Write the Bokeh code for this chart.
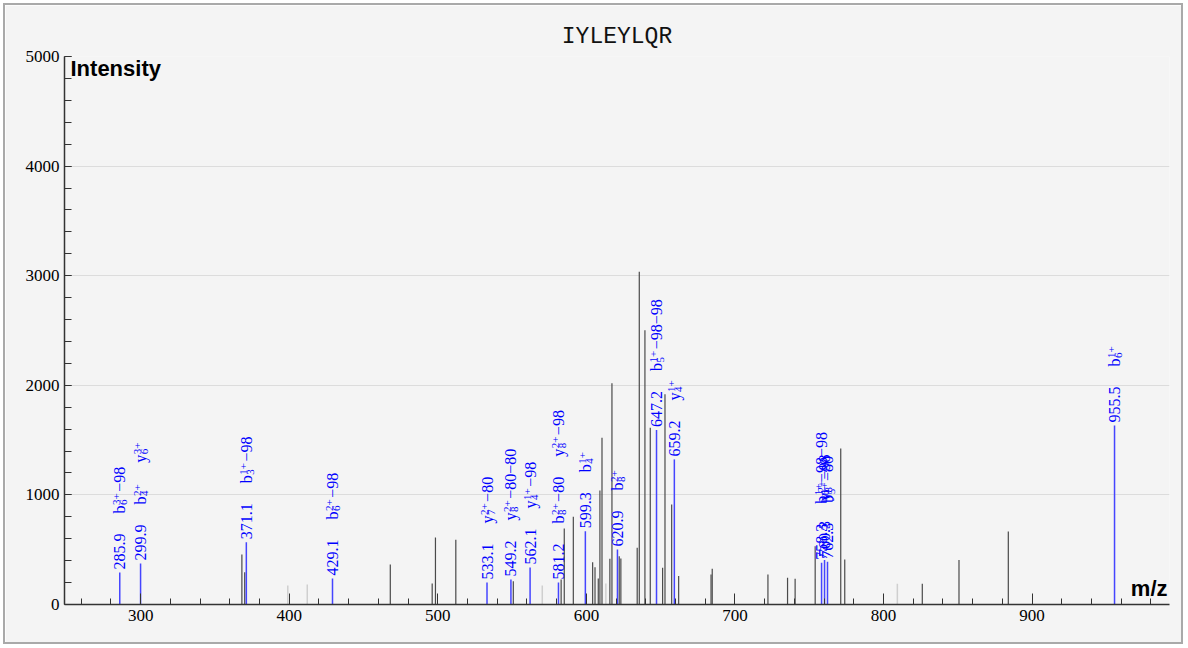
import numpy as np
from bokeh.plotting import figure
from bokeh.models import ColumnDataSource, Label, SingleIntervalTicker, Range1d
from bokeh.core.properties import value
from bokeh.embed import file_html
from bokeh.resources import INLINE

# ---------------- data ----------------
title_text = "IYLEYLQR"
x_label = "m/z"
y_label = "Intensity"

# unassigned peaks (m/z, intensity)
peak_mz = [368.1, 370.0, 468.0, 496.2, 498.4, 512.1, 550.8, 583.0, 585.1, 591.2,
           604.2, 605.8, 608.0, 609.1, 610.5, 615.8, 617.2, 622.1, 623.2, 634.2,
           635.6, 639.4, 643.0, 651.3, 652.9, 657.4, 662.1, 683.9, 684.7, 722.2,
           735.4, 740.5, 754.0, 771.2, 773.9, 826.1, 850.8, 884.0]
peak_int = [456, 295, 365, 192, 612, 590, 213, 228, 694, 800,
            386, 341, 237, 1041, 1522, 417, 2018, 441, 420, 517,
            3035, 2502, 1612, 335, 1918, 913, 259, 274, 326, 274,
            243, 234, 532, 1424, 411, 189, 405, 667]

# faint peaks
faint_mz = [399.0, 412.1, 570.3, 613.1, 809.3]
faint_int = [173, 182, 173, 192, 189]

# annotated peaks
ann_mz = [285.9, 299.9, 371.1, 429.1, 533.1, 549.2, 562.1, 581.2, 599.3, 620.9,
          647.2, 659.2, 758.3, 760.3, 762.3, 955.5]
ann_int = [292, 374, 569, 237, 200, 228, 337, 200, 669, 502,
           1592, 1324, 380, 405, 390, 1633]
# ion labels: (ion letter, subscript, superscript charge, neutral loss)
ann_ions = [
    [("b", "6", "3+", "\u221298")],
    [("b", "4", "2+", ""), ("y", "6", "3+", "")],
    [("b", "3", "1+", "\u221298")],
    [("b", "6", "2+", "\u221298")],
    [("y", "7", "2+", "\u221280")],
    [("y", "8", "2+", "\u221280\u221280")],
    [("y", "4", "1+", "\u221298")],
    [("b", "8", "2+", "\u221280"), ("y", "8", "2+", "\u221298")],
    [("b", "4", "1+", "")],
    [("b", "8", "2+", "")],
    [("b", "5", "1+", "\u221298\u221298")],
    [("y", "4", "1+", "")],
    [("b", "6", "1+", "\u221298\u221298")],
    [("y", "8", "2+", "\u221298")],
    [("b", "5", "1+", "\u221280")],
    [("b", "6", "1+", "")],
]

x_ticks_interval = 100
y_ticks_interval = 1000

# ---------------- layout ----------------
X0, X1 = 248.7, 992.5
Y0, Y1 = 0, 5000
FW, FH = 1105, 548
PX_X = (X1 - X0) / FW
PX_Y = (Y1 - Y0) / FH

BG = "#f4f4f4"
SERIF = "Liberation Serif"
SANS = "Liberation Sans"

p = figure(frame_width=FW, frame_height=FH,
           min_border_left=59, min_border_right=12, min_border_top=51, min_border_bottom=38,
           x_range=Range1d(X0, X1), y_range=Range1d(Y0, Y1),
           output_backend="svg", toolbar_location=None,
           background_fill_color=BG, border_fill_color=BG)
p.styles = {"border": "2px solid #a9a9a9", "margin-left": "3px", "margin-top": "3px"}
p.outline_line_color = None

p.title.text = title_text
p.title.align = "center"
p.title.text_font = "Liberation Mono"
p.title.text_font_size = "23px"
p.title.text_font_style = "normal"
p.title.text_color = "#111111"
p.title.standoff = 13

p.xaxis.ticker = SingleIntervalTicker(interval=x_ticks_interval, num_minor_ticks=5)
p.yaxis.ticker = SingleIntervalTicker(interval=y_ticks_interval, num_minor_ticks=5)
for ax in (p.xaxis, p.yaxis):
    ax.axis_line_color = "#333333"
    ax.axis_line_width = 1.5
    ax.major_tick_line_color = "#333333"
    ax.minor_tick_line_color = "#333333"
    ax.major_tick_out = 0
    ax.minor_tick_out = 0
    ax.major_label_text_font = SERIF
    ax.major_label_text_font_size = "17px"
    ax.major_label_text_color = "black"
p.xaxis.major_tick_in = 11
p.xaxis.minor_tick_in = 6
p.yaxis.major_tick_in = 7
p.yaxis.minor_tick_in = 7
p.xaxis.major_label_standoff = 5
p.yaxis.major_label_standoff = 5

p.xgrid.grid_line_color = None
p.ygrid.grid_line_color = "#dcdcdc"
p.ygrid.grid_line_width = 1

# peaks
p.segment(x0=faint_mz, y0=[0] * len(faint_mz), x1=faint_mz, y1=faint_int,
          line_color="#cfcfcf", line_width=1.5)
p.segment(x0=peak_mz, y0=[0] * len(peak_mz), x1=peak_mz, y1=peak_int,
          line_color="#4a4a4a", line_width=1.2)
p.segment(x0=ann_mz, y0=[0] * len(ann_mz), x1=ann_mz, y1=ann_int,
          line_color="#4545ff", line_width=1.5)

# annotation texts
CW = {".": 0.25, "\u2212": 0.564, "+": 0.564, "b": 0.5, "y": 0.5}


def tw(s, size):
    return sum(CW.get(c, 0.5) for c in s) * size


BIG, SMALL = 16, 11
srcs = {k: dict(x=[], y=[], text=[]) for k in ("num", "base", "sup", "sub", "suf")}


def put(key, mz, inten, txt, side_px, up_px):
    srcs[key]["x"].append(mz + side_px * PX_X)
    srcs[key]["y"].append(inten + up_px * PX_Y)
    srcs[key]["text"].append(txt)


for mz, inten, ions in zip(ann_mz, ann_int, ann_ions):
    num = f"{mz:.1f}"
    up = 3
    put("num", mz, inten, num, 0, up)
    up += tw(num, BIG) + 20
    for base, sub, sup, suf in ions:
        put("base", mz, inten, base, 0, up)
        w = tw(base, BIG)
        put("sup", mz, inten, sup, -3, up + w + 0.5)
        put("sub", mz, inten, sub, 4, up + w + 0.5)
        w += max(tw(sup, SMALL), tw(sub, SMALL)) + 2
        if suf:
            put("suf", mz, inten, suf, 0, up + w)
            w += tw(suf, BIG)
        up += w + 20

for key, size in (("num", BIG), ("base", BIG), ("sup", SMALL), ("sub", SMALL), ("suf", BIG)):
    p.text(x="x", y="y", text="text", source=ColumnDataSource(srcs[key]),
           angle=np.pi / 2, text_align="left", text_baseline="middle",
           text_font=value(SERIF), text_font_size=f"{size}px", text_color="#0000ff")

# axis titles inside plot
p.add_layout(Label(x=X0, y=Y1, x_offset=6, y_offset=1, text=y_label,
                   text_font=SANS, text_font_style="bold", text_font_size="22px",
                   text_color="black", text_baseline="top", text_align="left"))
p.add_layout(Label(x=X1, y=Y0, x_offset=-2, y_offset=4, text=x_label,
                   text_font=SANS, text_font_style="bold", text_font_size="22px",
                   text_color="black", text_baseline="bottom", text_align="right"))

open("out.html", "w").write(file_html(p, INLINE))
